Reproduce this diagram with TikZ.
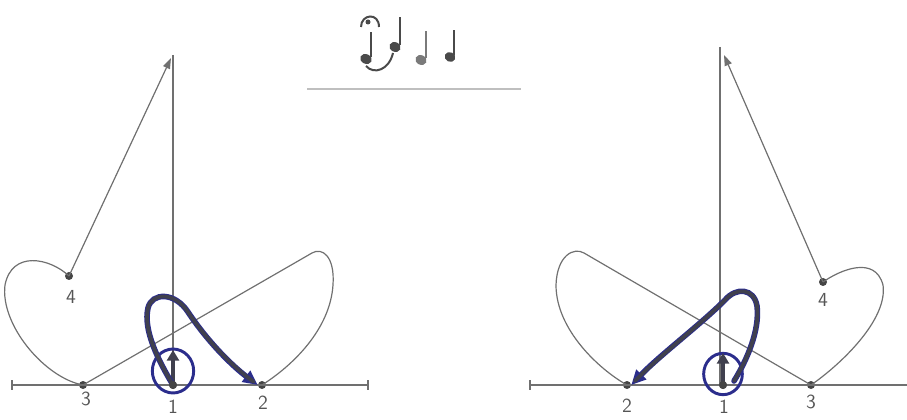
\documentclass[tikz,border=0pt]{standalone}
\usetikzlibrary{arrows.meta,shapes.geometric}
\definecolor{gline}{HTML}{707070}
\definecolor{dotc}{HTML}{454545}
\definecolor{bedge}{HTML}{2B2D8C}
\definecolor{bcore}{HTML}{40404E}
\definecolor{lblc}{HTML}{555555}
\begin{document}
\begin{tikzpicture}[x=0.75pt,y=-0.75pt,
  thinline/.style={draw=gline,line width=0.9pt},
  axisline/.style={draw=gline,line width=1.0pt},
  ptdot/.style={circle,fill=dotc,inner sep=0pt,minimum size=6pt},
  lbl/.style={text=lblc,font=\sffamily\fontsize{15}{15}\selectfont,inner sep=0pt},
  upar/.style={-{Triangle[length=8pt,width=9pt]},line width=2.6pt,draw=bcore,fill=bcore},
  bout/.style={line width=4.2pt,draw=bedge,-{Triangle[length=11pt,width=10pt]},line cap=round},
  bin/.style={line width=2.8pt,draw=bcore,line cap=round,shorten >=4pt},
  ring/.style={ellipse,draw=bedge,line width=2.2pt,inner sep=0pt},
  tip/.style={-{Triangle[length=8pt,width=5.5pt]}}
]
\useasboundingbox (0,0) rectangle (907,420);

% ---------------- top: notes ----------------
\definecolor{nc}{HTML}{4A4A4A}
\definecolor{nc2}{HTML}{7A7A7A}
\fill[nc,rotate around={-25:(366,59)}] (366,59) ellipse [x radius=6, y radius=4.8];
\draw[nc,line width=1.5pt] (370.8,57) -- (370.8,32);
\draw[nc,line width=1.5pt] (361,27) .. controls (361,14) and (379,12) .. (379,27);
\fill[nc] (368,22) circle (2.5);
\draw[nc,line width=1.5pt] (366,66) .. controls (374,75) and (389,70) .. (393,53);
\fill[nc,rotate around={-25:(395,47)}] (395,47) ellipse [x radius=5.8, y radius=4.8];
\draw[nc,line width=1.5pt] (399.5,45) -- (399.5,17);
\fill[nc2,rotate around={-25:(421,60)}] (421,60) ellipse [x radius=5.8, y radius=4.8];
\draw[nc2,line width=1.5pt] (425.8,58) -- (425.8,31);
\fill[nc,rotate around={-25:(450,57)}] (450,57) ellipse [x radius=5.5, y radius=4.8];
\draw[nc,line width=1.5pt] (454,55) -- (454,30);
\coordinate (sepA) at (307,89);
\coordinate (sepB) at (521,89);
\draw[draw=gline!45,line width=0.8pt] (sepA) -- (sepB);

% ---------------- left diagram ----------------
\coordinate (LaxL) at (12,385);
\coordinate (LaxR) at (368,385);
\coordinate (LaxT) at (173,55);
\coordinate (Ltop) at (171,58);
\coordinate (Lup) at (173,350);
\node[ptdot] (L1) at (173,385) {};
\node[ptdot] (L2) at (262,385) {};
\node[ptdot] (L3) at (83,385) {};
\node[ptdot] (L4) at (69,276) {};

\draw[axisline] (LaxL) -- (LaxR);
\draw[axisline] ([yshift=3.5pt]LaxL) -- ([yshift=-3.5pt]LaxL);
\draw[axisline] ([yshift=3.5pt]LaxR) -- ([yshift=-3.5pt]LaxR);
\draw[axisline] (LaxT) -- (L1.center);

\draw[thinline,tip,draw=gline,fill=gline] (L4.center) -- (Ltop);
\draw[thinline] (L4.center) .. controls (50,258) and (12,250) .. (5,285)
   .. controls (0,325) and (45,378) .. (L3.center);
\draw[thinline] (L3.center) -- (312,253) .. controls (322,247) and (335,256) .. (333,285)
   .. controls (330,330) and (292,366) .. (L2.center);

\node[ring,minimum width=31pt,minimum height=33pt] (Lring) at (173,371) {};
\draw[upar] (L1.center) -- (Lup);
\draw[bout] (L1.center) .. controls (158,360) and (143,330) .. (148,308)
   .. controls (152,292) and (175,292) .. (188,312)
   .. controls (210,345) and (235,368) .. (L2.west);
\draw[bin] (L1.center) .. controls (158,360) and (143,330) .. (148,308)
   .. controls (152,292) and (175,292) .. (188,312)
   .. controls (210,345) and (235,368) .. (L2.west);
\node[ptdot] at (L1) {};

\node[lbl] (tL3) at (86,399) {3};
\node[lbl] (tL1) at (173,407) {1};
\node[lbl] (tL2) at (263,403) {2};
\node[lbl] (tL4) at (71,297) {4};

% ---------------- right diagram ----------------
\coordinate (RaxL) at (530,385);
\coordinate (RaxR) at (907,385);
\coordinate (RaxT) at (720,47);
\coordinate (Rtop) at (724,55);
\coordinate (Rup) at (723,353);
\node[ptdot] (R1) at (723,385) {};
\node[ptdot] (R2) at (627,385) {};
\node[ptdot] (R3) at (811,385) {};
\node[ptdot] (R4) at (823,282) {};

\draw[axisline] (RaxL) -- (RaxR);
\draw[axisline] ([yshift=3.5pt]RaxL) -- ([yshift=-3.5pt]RaxL);
\draw[axisline] (RaxT) -- (720,385);

\draw[thinline,tip,draw=gline,fill=gline] (R4.center) -- (Rtop);
\draw[thinline] (R4.center) .. controls (840,270) and (875,255) .. (883,285)
   .. controls (888,320) and (840,365) .. (R3.center);
\draw[thinline] (R3.center) -- (584,253) .. controls (574,247) and (557,255) .. (556,285)
   .. controls (556,330) and (600,370) .. (R2.center);

\node[ring,minimum width=29pt,minimum height=31pt] (Rring) at (723,374) {};
\draw[upar] (R1.center) -- (Rup);
\draw[bout] (734,381) .. controls (747,360) and (760,330) .. (757,306)
   .. controls (754,288) and (736,287) .. (725,300)
   .. controls (700,325) and (660,355) .. (R2.east);
\draw[bin] (734,381) .. controls (747,360) and (760,330) .. (757,306)
   .. controls (754,288) and (736,287) .. (725,300)
   .. controls (700,325) and (660,355) .. (R2.east);
\node[ptdot] at (R1) {};

\node[lbl] (tR2) at (627,406) {2};
\node[lbl] (tR1) at (724,407) {1};
\node[lbl] (tR3) at (811,402) {3};
\node[lbl] (tR4) at (823,300) {4};
\end{tikzpicture}
\end{document}
